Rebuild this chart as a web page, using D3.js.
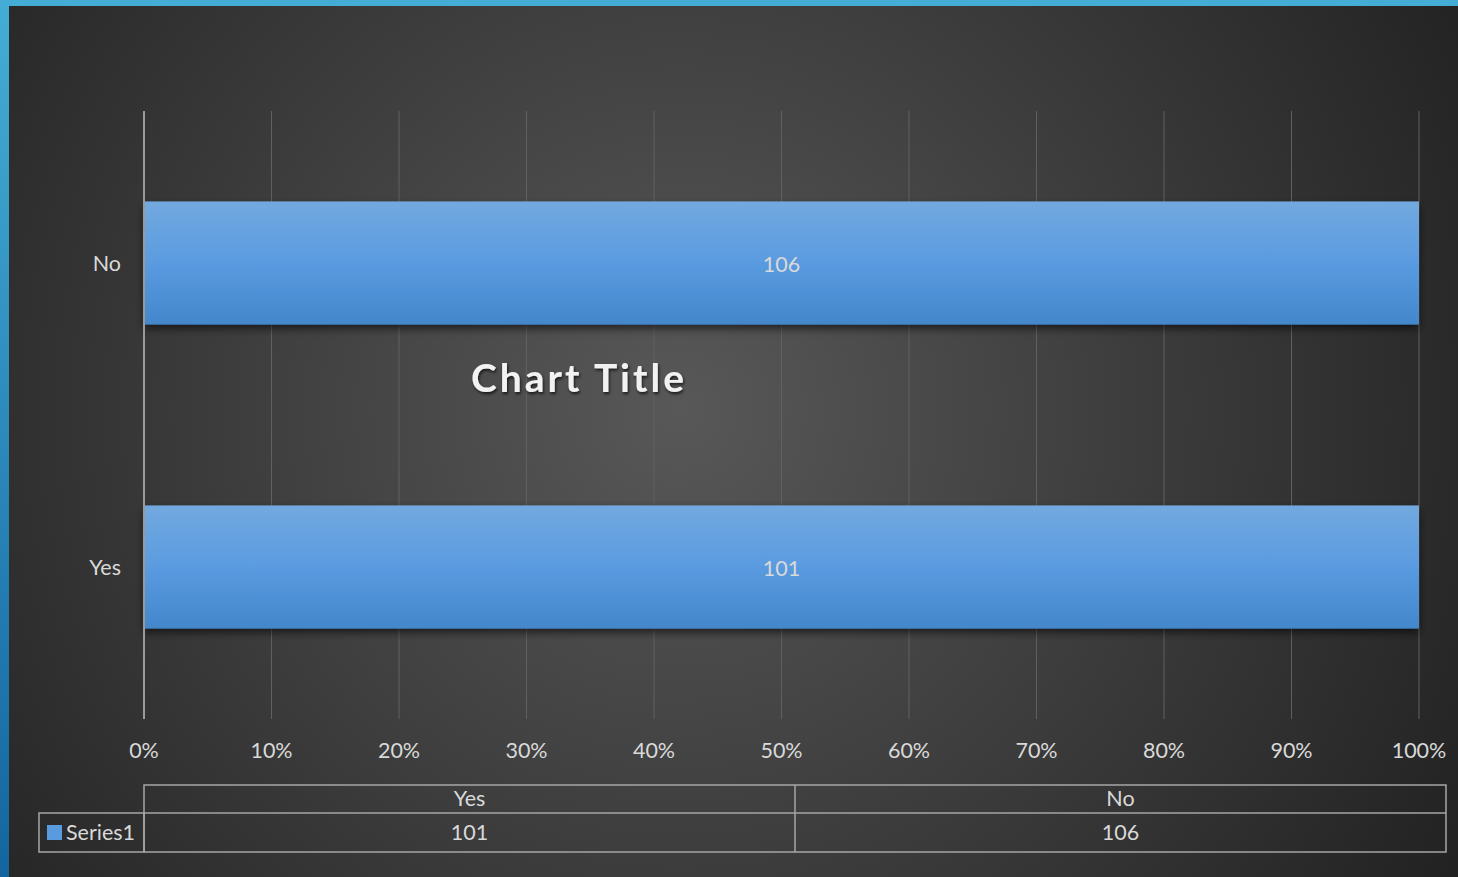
<!DOCTYPE html>
<html>
<head>
<meta charset="utf-8">
<script src="https://cdn.jsdelivr.net/npm/d3@7"></script>
<style>
  html, body { margin: 0; padding: 0; background: #2a2a2a; overflow: hidden; }
  svg { display: block; }
</style>
</head>
<body>
<div id="chart"></div>
<script>
// data
const categories = ["Yes", "No"];
const seriesName = "Series1";
const seriesValues = [101, 106];
const tickLabels = ["0%", "10%", "20%", "30%", "40%", "50%", "60%", "70%", "80%", "90%", "100%"];

const W = 1458, H = 877;
const plot = {left: 144, right: 1419, top: 111, bottom: 719};
const font = "Lato, 'Open Sans', sans-serif";
const fs = "21.5px";

const svg = d3.select("#chart").append("svg")
  .attr("width", W)
  .attr("height", H);

const defs = svg.append("defs");

// background radial gradient
const bg = defs.append("radialGradient")
  .attr("id", "bg")
  .attr("gradientUnits", "userSpaceOnUse")
  .attr("cx", 680).attr("cy", 410).attr("r", 900);
bg.append("stop").attr("offset", "0%").attr("stop-color", "#585858");
bg.append("stop").attr("offset", "100%").attr("stop-color", "#222222");

// left border gradient
const lb = defs.append("linearGradient")
  .attr("id", "leftBorder")
  .attr("x1", 0).attr("y1", 0).attr("x2", 0).attr("y2", 1);
lb.append("stop").attr("offset", "0%").attr("stop-color", "#44add6");
lb.append("stop").attr("offset", "100%").attr("stop-color", "#14659f");

// bar gradient
const bar = defs.append("linearGradient")
  .attr("id", "barFill")
  .attr("x1", 0).attr("y1", 0).attr("x2", 0).attr("y2", 1);
bar.append("stop").attr("offset", "0%").attr("stop-color", "#72a9df");
bar.append("stop").attr("offset", "50%").attr("stop-color", "#5a9be0");
bar.append("stop").attr("offset", "100%").attr("stop-color", "#4387cb");

// bar shadow
const sh = defs.append("filter").attr("id", "barShadow")
  .attr("x", "-5%").attr("y", "-20%").attr("width", "110%").attr("height", "150%");
sh.append("feDropShadow")
  .attr("dx", 0).attr("dy", 4).attr("stdDeviation", 4)
  .attr("flood-color", "#000").attr("flood-opacity", 0.6);

// title shadow
const ts = defs.append("filter").attr("id", "titleShadow")
  .attr("x", "-10%").attr("y", "-30%").attr("width", "120%").attr("height", "170%");
ts.append("feDropShadow")
  .attr("dx", 1).attr("dy", 2).attr("stdDeviation", 1.5)
  .attr("flood-color", "#000").attr("flood-opacity", 0.7);

// frame
svg.append("rect").attr("width", W).attr("height", H).attr("fill", "#44add6");
svg.append("rect").attr("width", 9).attr("height", H).attr("fill", "url(#leftBorder)");
svg.append("rect").attr("x", 9).attr("y", 6).attr("width", W - 9).attr("height", H - 6)
  .attr("fill", "url(#bg)");

// scales
const x = d3.scaleLinear().domain([0, 1]).range([plot.left, plot.right]);
const y = d3.scaleBand()
  .domain(categories.slice().reverse())
  .range([plot.top, plot.bottom])
  .paddingInner(0.595)
  .paddingOuter(0.2975);

const tickVals = d3.range(0, 1.0001, 0.1);

// gridlines
svg.append("g")
  .selectAll("line")
  .data(tickVals.slice(1))
  .join("line")
  .attr("x1", d => x(d)).attr("x2", d => x(d))
  .attr("y1", plot.top).attr("y2", plot.bottom)
  .attr("stroke", "#606060")
  .attr("stroke-width", 1);

// value axis labels
svg.append("g")
  .selectAll("text")
  .data(tickVals)
  .join("text")
  .attr("x", d => x(d))
  .attr("y", 758)
  .attr("text-anchor", "middle")
  .style("font-family", font)
  .style("font-size", fs)
  .style("fill", "#d9d9d9")
  .text((d, i) => tickLabels[i]);

// bars (100% stacked, single series)
const rows = categories.map((c, i) => ({cat: c, value: seriesValues[i]}));
const total = d => d.value;

svg.append("g")
  .selectAll("rect")
  .data(rows)
  .join("rect")
  .attr("x", x(0))
  .attr("y", d => y(d.cat))
  .attr("width", d => x(d.value / total(d)) - x(0))
  .attr("height", y.bandwidth())
  .attr("fill", "url(#barFill)")
  .attr("filter", "url(#barShadow)");

// value labels
svg.append("g")
  .selectAll("text")
  .data(rows)
  .join("text")
  .attr("x", d => x(d.value / total(d) / 2))
  .attr("y", d => y(d.cat) + y.bandwidth() / 2 + 9)
  .attr("text-anchor", "middle")
  .style("font-family", font)
  .style("font-size", fs)
  .style("fill", "#d9d9d9")
  .text(d => d.value);

// category axis line
svg.append("line")
  .attr("x1", plot.left).attr("x2", plot.left)
  .attr("y1", plot.top).attr("y2", plot.bottom)
  .attr("stroke", "#9a9a9a")
  .attr("stroke-width", 2);

// category labels
svg.append("g")
  .selectAll("text")
  .data(categories)
  .join("text")
  .attr("x", 121)
  .attr("y", d => y(d) + y.bandwidth() / 2 + 8)
  .attr("text-anchor", "end")
  .style("font-family", font)
  .style("font-size", fs)
  .style("fill", "#d9d9d9")
  .text(d => d);

// chart title
svg.append("text")
  .attr("x", 579)
  .attr("y", 392)
  .attr("text-anchor", "middle")
  .attr("filter", "url(#titleShadow)")
  .style("font-family", font)
  .style("font-size", "39px")
  .style("font-weight", "bold")
  .style("letter-spacing", "3px")
  .style("fill", "#f2f2f2")
  .text("Chart Title");

// data table
const tbl = {left: 39, keyRight: 144, right: 1446, top: 785, mid: 813, bottom: 852};
const colX = d3.scaleBand().domain(categories).range([tbl.keyRight, tbl.right]);
const tg = svg.append("g")
  .attr("fill", "none")
  .attr("stroke", "#a6a6a6")
  .attr("stroke-width", 1.5);

tg.append("rect")
  .attr("x", tbl.keyRight).attr("y", tbl.top)
  .attr("width", tbl.right - tbl.keyRight).attr("height", tbl.bottom - tbl.top);
tg.append("rect")
  .attr("x", tbl.left).attr("y", tbl.mid)
  .attr("width", tbl.keyRight - tbl.left).attr("height", tbl.bottom - tbl.mid);
tg.append("line")
  .attr("x1", tbl.keyRight).attr("x2", tbl.right)
  .attr("y1", tbl.mid).attr("y2", tbl.mid);
tg.selectAll("line.col")
  .data(categories.slice(1))
  .join("line")
  .attr("class", "col")
  .attr("x1", d => colX(d)).attr("x2", d => colX(d))
  .attr("y1", tbl.top).attr("y2", tbl.bottom);

svg.append("g")
  .selectAll("text")
  .data(categories)
  .join("text")
  .attr("x", d => colX(d) + colX.bandwidth() / 2)
  .attr("y", 806)
  .attr("text-anchor", "middle")
  .style("font-family", font)
  .style("font-size", fs)
  .style("fill", "#d9d9d9")
  .text(d => d);

svg.append("g")
  .selectAll("text")
  .data(rows)
  .join("text")
  .attr("x", d => colX(d.cat) + colX.bandwidth() / 2)
  .attr("y", 840)
  .attr("text-anchor", "middle")
  .style("font-family", font)
  .style("font-size", fs)
  .style("fill", "#d9d9d9")
  .text(d => d.value);

// legend key
svg.append("rect")
  .attr("x", 47).attr("y", 825)
  .attr("width", 15).attr("height", 15)
  .attr("fill", "#5a9be0");
svg.append("text")
  .attr("x", 66)
  .attr("y", 840)
  .style("font-family", font)
  .style("font-size", fs)
  .style("fill", "#d9d9d9")
  .text(seriesName);
</script>
</body>
</html>
